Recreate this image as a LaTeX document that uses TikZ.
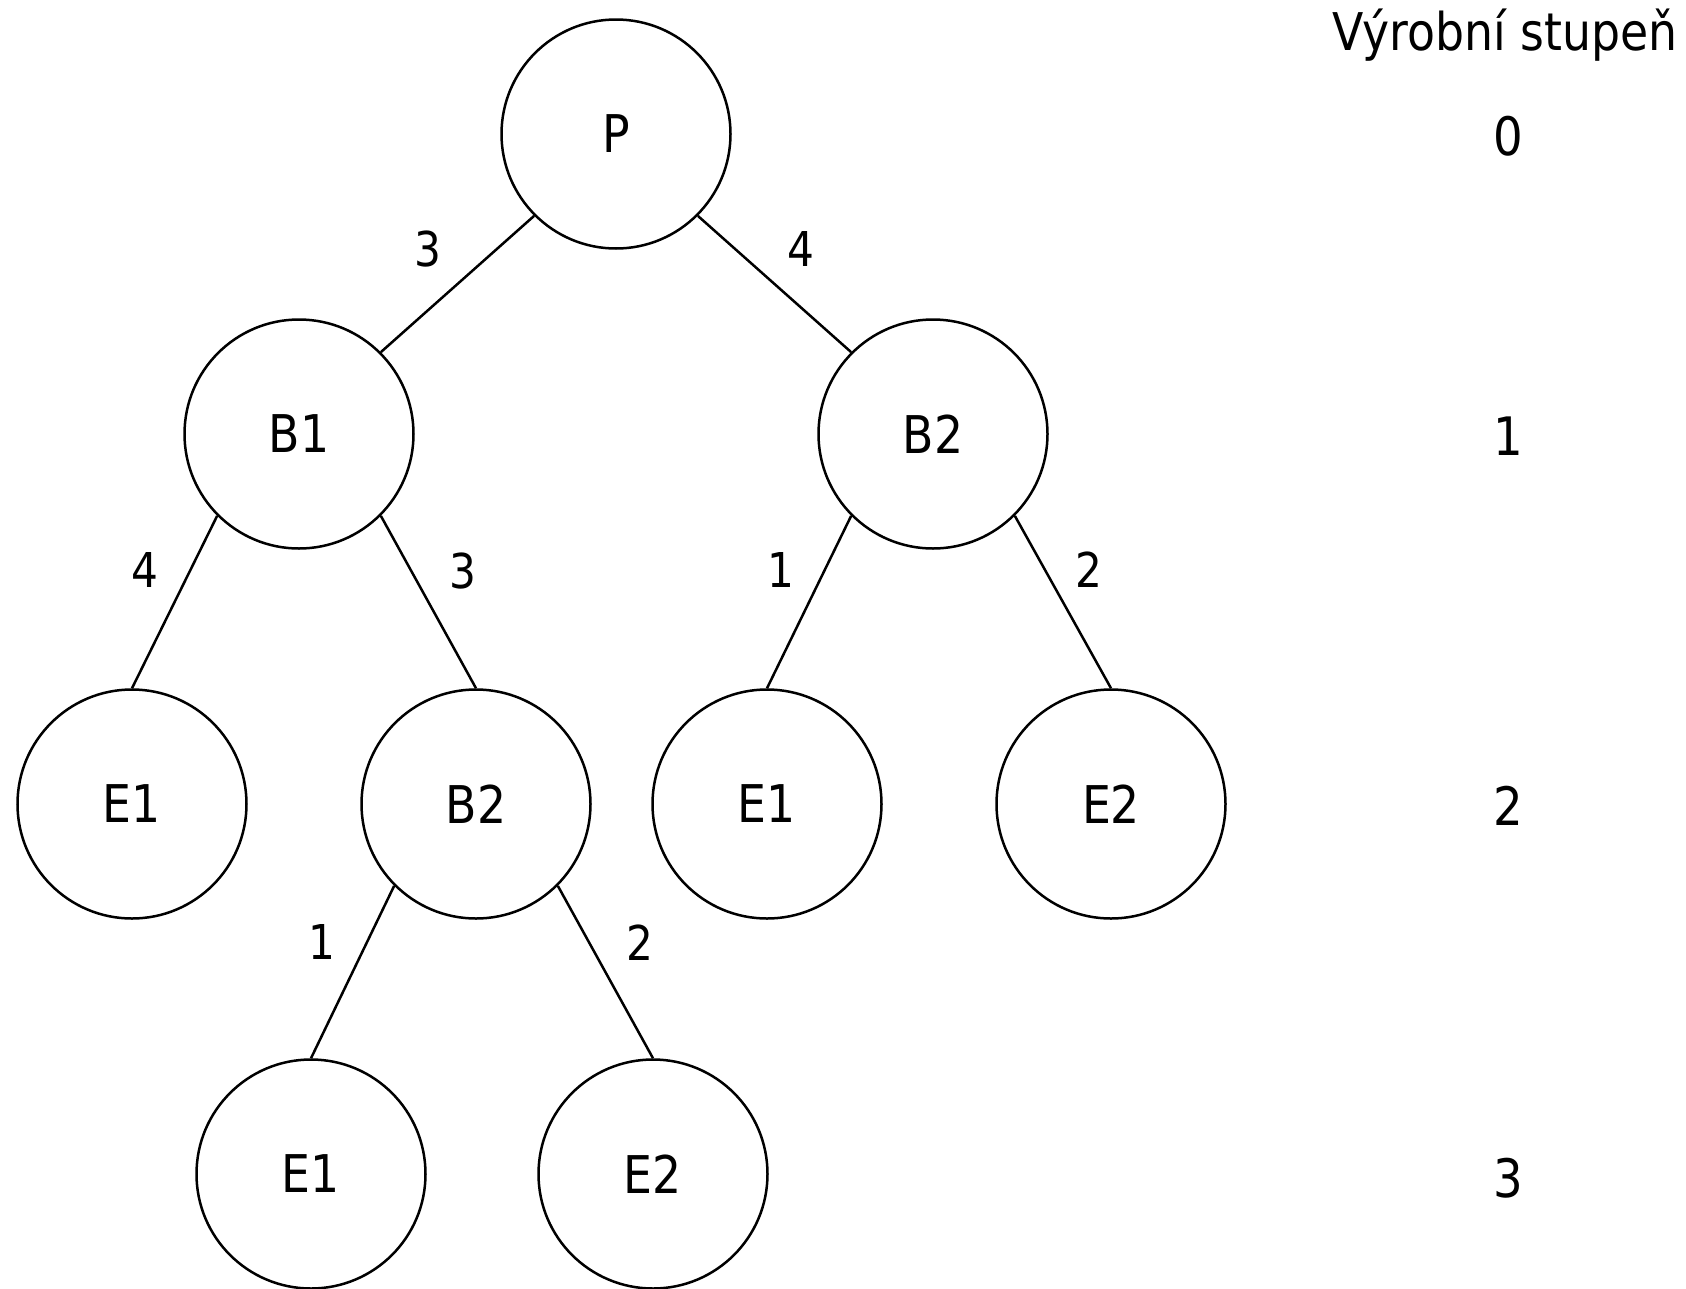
\documentclass[tikz,border=0pt]{standalone}
\usepackage{fontspec}
\setmainfont{DejaVu Sans}[FakeStretch=0.88]
\begin{document}
\begin{tikzpicture}[x=1pt,y=-1pt,
  stage/.style={circle,draw,line width=2.5pt,minimum size=229pt,inner sep=0pt,font=\fontsize{52}{60}\selectfont},
  elabel/.style={font=\fontsize{48}{56}\selectfont,inner sep=0pt},
  lvl/.style={font=\fontsize{53}{60}\selectfont,inner sep=0pt,anchor=base},
  conn/.style={line width=2.5pt}]
\useasboundingbox (0,0) rectangle (1686,1288);
\node[stage] (P) at (616,134) {P};
\node[stage] (B1) at (299,434) {B1};
\node[stage] (B2) at (933,434) {B2};
\node[stage] (E1a) at (132,804) {E1};
\node[stage] (B2b) at (476,804) {B2};
\node[stage] (E1b) at (767,804) {E1};
\node[stage] (E2b) at (1111,804) {E2};
\node[stage] (E1c) at (311,1174) {E1};
\node[stage] (E2c) at (653,1174) {E2};
\draw[conn] (P.225) -- (B1.45);
\draw[conn] (P.-45) -- (B2.135);
\draw[conn] (B1.225) -- (E1a.north);
\draw[conn] (B1.-45) -- (B2b.north);
\draw[conn] (B2.225) -- (E1b.north);
\draw[conn] (B2.-45) -- (E2b.north);
\draw[conn] (B2b.225) -- (E1c.north);
\draw[conn] (B2b.-45) -- (E2c.north);
\node[elabel] (l1) at (428,249) {3};
\node[elabel] (l2) at (801,249) {4};
\node[elabel] (l3) at (145,570) {4};
\node[elabel] (l4) at (463,571) {3};
\node[elabel] (l5) at (781,570) {1};
\node[elabel] (l6) at (1089,570) {2};
\node[elabel] (l7) at (322,942) {1};
\node[elabel] (l8) at (640,943) {2};
\node[lvl,font=\fontsize{52}{60}\selectfont] (title) at (1505,50) {Výrobní stupeň};
\node[lvl] (s0) at (1508,155) {0};
\node[lvl] (s1) at (1508,455) {1};
\node[lvl] (s2) at (1508,825) {2};
\node[lvl] (s3) at (1508,1197) {3};
\end{tikzpicture}
\end{document}
